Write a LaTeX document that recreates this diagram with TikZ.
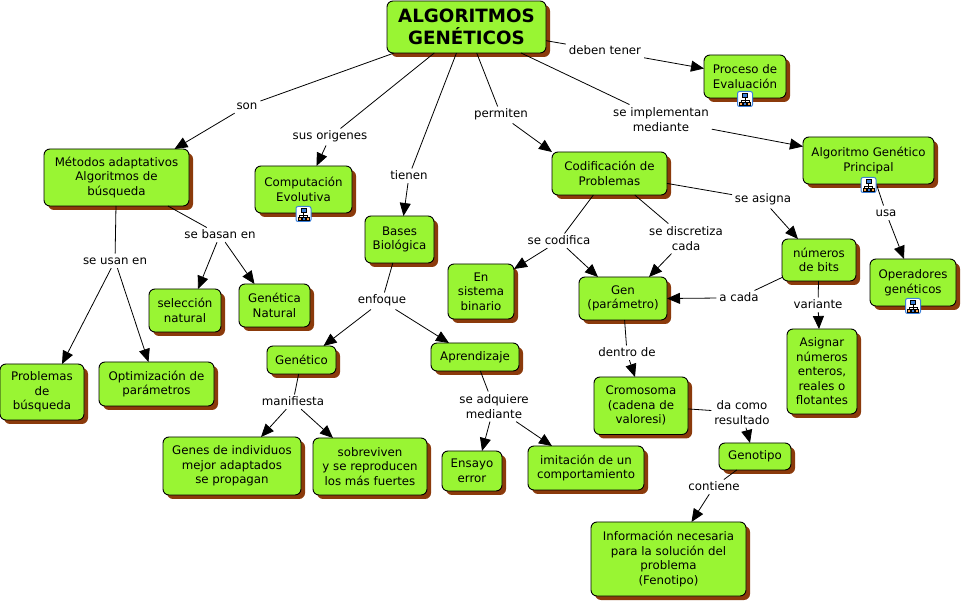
\documentclass[tikz,border=0pt]{standalone}
\usepackage{fontspec}
\setmainfont{DejaVu Sans}
\usepackage{xcolor}
\usepackage{tikz}
\usetikzlibrary{arrows.meta,positioning,shadows}

\definecolor{boxgreen}{HTML}{99F533}
\definecolor{shadowbrown}{HTML}{8B3A0B}
\definecolor{iconblue}{HTML}{3B7FD9}

\begin{document}
\begin{tikzpicture}[
    x=1pt, y=1pt,
    box/.style={draw=black, rectangle, rounded corners=6pt, fill=boxgreen, line width=0.9pt, inner sep=0pt, outer sep=0pt, align=center,
        font=\fontsize{11.8}{14.5}\selectfont, drop shadow={shadow xshift=4pt, shadow yshift=-4pt, fill=shadowbrown, opacity=1}},
    title/.style={box, font=\fontsize{18.3}{22}\selectfont\bfseries},
    tag/.style={inner sep=3pt, outer sep=0pt, align=center, font=\fontsize{11.8}{14}\selectfont, text height=8.5pt, yshift=-1pt},
    tagtwo/.style={inner sep=3pt, outer sep=0pt, align=center, font=\fontsize{11.8}{15}\selectfont, yshift=-0.5pt},
    line/.style={draw=black, line width=0.8pt},
    arrow/.style={line, -{Triangle[length=13pt, width=11pt]}},
    icon/.pic={
        \draw[iconblue, fill=white, rounded corners=2pt, line width=1pt] (-7.5,-7.5) rectangle (7.5,7.5);
        \draw[black, line width=0.5pt] (0,2) -- (0,-3) (-4,-1) -- (4,-1) (-4,-1) -- (-4,-3) (4,-1) -- (4,-3);
        \draw[black, fill=iconblue, line width=0.4pt] (-2.5,2) rectangle (2.5,5.5);
        \draw[black, fill=orange!70, line width=0.4pt] (-5.5,-6) rectangle (-2.5,-3);
        \draw[black, fill=iconblue, line width=0.4pt] (-1.5,-6) rectangle (1.5,-3);
        \draw[black, fill=orange!70, line width=0.4pt] (2.5,-6) rectangle (5.5,-3);
    }
]
\useasboundingbox (0,0) rectangle (962,-601);

% main node
\node[title, minimum width=159pt, minimum height=52pt] (root) at (466.5,-27) {ALGORITMOS\\GENÉTICOS};

% first level
\node[tag, below=-10.5pt of root, xshift=138.5pt] (deben) {deben tener};
\node[tag, below=44.5pt of root, xshift=-219.5pt] (son) {son};
\node[tag, below=74.5pt of root, xshift=-136.5pt] (origenes) {sus origenes};
\node[tag, below=114.5pt of root, xshift=-57.5pt] (tienen) {tienen};
\node[tag, below=52.5pt of root, xshift=34.5pt] (permiten) {permiten};
\node[tagtwo, below=51pt of root, xshift=194.5pt] (implementan) {se implementan\\mediante};

\node[box, minimum width=82pt, minimum height=43pt, below=2pt of root, xshift=278.5pt] (evaluacion) {Proceso de\\Evaluación};
\node[box, minimum width=131pt, minimum height=47pt, below=84pt of root, xshift=402pt] (principal) {Algoritmo Genético\\Principal};
\node[box, minimum width=145pt, minimum height=57pt, below=96pt of root, xshift=-350pt] (metodos) {Métodos adaptativos\\Algoritmos de\\búsqueda};
\node[box, minimum width=97pt, minimum height=47pt, below=113pt of root, xshift=-163pt] (computacion) {Computación\\Evolutiva};
\node[box, minimum width=69pt, minimum height=47pt, below=163pt of root, xshift=-67pt] (bases) {Bases\\Biológica};
\node[box, minimum width=115pt, minimum height=43pt, below=99pt of root, xshift=143pt] (codificacion) {Codificación de\\Problemas};

% metodos
\node[tag, below=20.5pt of metodos, xshift=103.5pt] (basan) {se basan en};
\node[tag, below=46.5pt of metodos, xshift=-1.5pt] (usan) {se usan en};
\node[box, minimum width=72pt, minimum height=43pt, below=83pt of metodos, xshift=68.5pt] (seleccion) {selección\\natural};
\node[box, minimum width=71pt, minimum height=43pt, below=78pt of metodos, xshift=158pt] (natural) {Genética\\Natural};
\node[box, minimum width=84pt, minimum height=56pt, below=158pt of metodos, xshift=-74.5pt] (problemas) {Problemas\\de\\búsqueda};
\node[box, minimum width=115pt, minimum height=44pt, below=156pt of metodos, xshift=40pt] (optimizacion) {Optimización de\\parámetros};

% bases
\node[tag, below=28.5pt of bases, xshift=-17.5pt] (enfoque) {enfoque};
\node[box, minimum width=69pt, minimum height=28pt, below=83pt of bases, xshift=-98pt] (genetico) {Genético};
\node[box, minimum width=88pt, minimum height=28pt, below=80pt of bases, xshift=75.5pt] (aprendizaje) {Aprendizaje};

\node[tag, below=19.5pt of genetico, xshift=-8.5pt] (manifiesta) {manifiesta};
\node[box, minimum width=138pt, minimum height=58pt, below=63pt of genetico, xshift=-69.5pt] (genes) {Genes de individuos\\mejor adaptados\\se propagan};
\node[box, minimum width=114pt, minimum height=57pt, below=64pt of genetico, xshift=68.5pt] (sobreviven) {sobreviven\\y se reproducen\\los más fuertes};

\node[tagtwo, below=20pt of aprendizaje, xshift=19pt] (adquiere) {se adquiere\\mediante};
\node[box, minimum width=60pt, minimum height=40pt, below=80pt of aprendizaje, xshift=-3pt] (ensayo) {Ensayo\\error};
\node[box, minimum width=116pt, minimum height=44pt, below=75pt of aprendizaje, xshift=111pt] (imitacion) {imitación de un\\comportamiento};

% codificacion
\node[tag, below=-4.5pt of codificacion, xshift=153.5pt] (asigna) {se asigna};
\node[tag, below=37.5pt of codificacion, xshift=-50.5pt] (codifica) {se codifica};
\node[tagtwo, below=28pt of codificacion, xshift=76.5pt] (discretiza) {se discretiza\\cada};
\node[box, minimum width=74pt, minimum height=42pt, below=44pt of codificacion, xshift=209.5pt] (bits) {números\\de bits};
\node[box, minimum width=66pt, minimum height=55pt, below=69pt of codificacion, xshift=-128.5pt] (binario) {En\\sistema\\binario};
\node[box, minimum width=88pt, minimum height=43pt, below=82pt of codificacion, xshift=13.5pt] (gen) {Gen\\(parámetro)};

\node[tag, below=8.5pt of bits, xshift=-80pt] (acada) {a cada};
\node[tag, below=15.5pt of bits, xshift=-1pt] (variante) {variante};
\node[box, minimum width=70pt, minimum height=85pt, below=48pt of bits, xshift=3pt] (asignar) {Asignar\\números\\enteros,\\reales o\\flotantes};

\node[tag, below=24.5pt of gen, xshift=4pt] (dentro) {dentro de};
\node[box, minimum width=94pt, minimum height=57.5pt, below=57pt of gen, xshift=18pt] (cromosoma) {Cromosoma\\(cadena de\\valoresi)};

\node[tagtwo, below=-37.5pt of cromosoma, xshift=101pt] (resultado) {da como\\resultado};
\node[box, minimum width=72pt, minimum height=27pt, below=8.5pt of cromosoma, xshift=114pt] (genotipo) {Genotipo};

\node[tag, below=8.5pt of genotipo, xshift=-41pt] (contiene) {contiene};
\node[box, minimum width=155pt, minimum height=74pt, below=52pt of genotipo, xshift=-86.5pt] (informacion) {Información necesaria\\para la solución del\\problema\\(Fenotipo)};

% principal
\node[tag, below=20.5pt of principal, xshift=17.5pt] (usa) {usa};
\node[box, minimum width=86pt, minimum height=47pt, below=75pt of principal, xshift=44.5pt] (operadores) {Operadores\\genéticos};

% lines to the linking words
\foreach \from/\to in {root/deben, root/son, root/origenes, root/tienen, root/permiten, root/implementan,
    metodos/basan, metodos/usan, bases/enfoque, genetico/manifiesta, aprendizaje/adquiere,
    codificacion/asigna, codificacion/codifica, codificacion/discretiza, bits/acada, bits/variante,
    gen/dentro, cromosoma/resultado, genotipo/contiene, principal/usa}
    \draw[line] (\from) -- (\to);

% arrows to the concepts
\draw[arrow] (deben) -- ([yshift=8pt]evaluacion.west);
\draw[arrow] (implementan) -- ([yshift=14pt]principal.west);
\draw[arrow] (son) -- ([xshift=58pt]metodos.north);
\draw[arrow] (origenes) -- ([xshift=13pt]computacion.north);
\draw[arrow] (tienen) -- ([xshift=4pt]bases.north);
\draw[arrow] (permiten) -- (codificacion.north west);
\draw[arrow] (basan) -- ([xshift=13pt]seleccion.north);
\draw[arrow] (basan) -- ([xshift=-20pt]natural.north);
\draw[arrow] (usan) -- ([xshift=20pt]problemas.north);
\draw[arrow] (usan) -- ([xshift=-8pt]optimizacion.north);
\draw[arrow] (enfoque) -- ([xshift=22pt]genetico.north);
\draw[arrow] (enfoque) -- ([xshift=-26pt]aprendizaje.north);
\draw[arrow] (manifiesta) -- ([xshift=29pt]genes.north);
\draw[arrow] (manifiesta) -- ([xshift=-37pt]sobreviven.north);
\draw[arrow] (adquiere) -- ([xshift=10pt]ensayo.north);
\draw[arrow] (adquiere) -- ([xshift=-34pt]imitacion.north);
\draw[arrow] (asigna) -- ([xshift=-21pt]bits.north);
\draw[arrow] (codifica) -- ([yshift=-5pt]binario.north east);
\draw[arrow] (codifica) -- ([xshift=-25pt]gen.north);
\draw[arrow] (discretiza) -- ([xshift=26pt]gen.north);
\draw[arrow] (acada) -- (gen.east);
\draw[arrow] (variante) -- ([xshift=-3pt]asignar.north);
\draw[arrow] (dentro) -- ([xshift=-6pt]cromosoma.north);
\draw[arrow] (resultado) -- ([xshift=-5pt]genotipo.north);
\draw[arrow] (contiene) -- ([xshift=23pt]informacion.north);
\draw[arrow] (usa) -- ([xshift=-9pt]operadores.north);

% small map icons
\pic[yshift=-1pt] at (evaluacion.south) {icon};
\pic[yshift=-1pt] at (principal.south) {icon};
\pic[yshift=-1pt] at (computacion.south) {icon};
\pic at (operadores.south) {icon};

\end{tikzpicture}
\end{document}
